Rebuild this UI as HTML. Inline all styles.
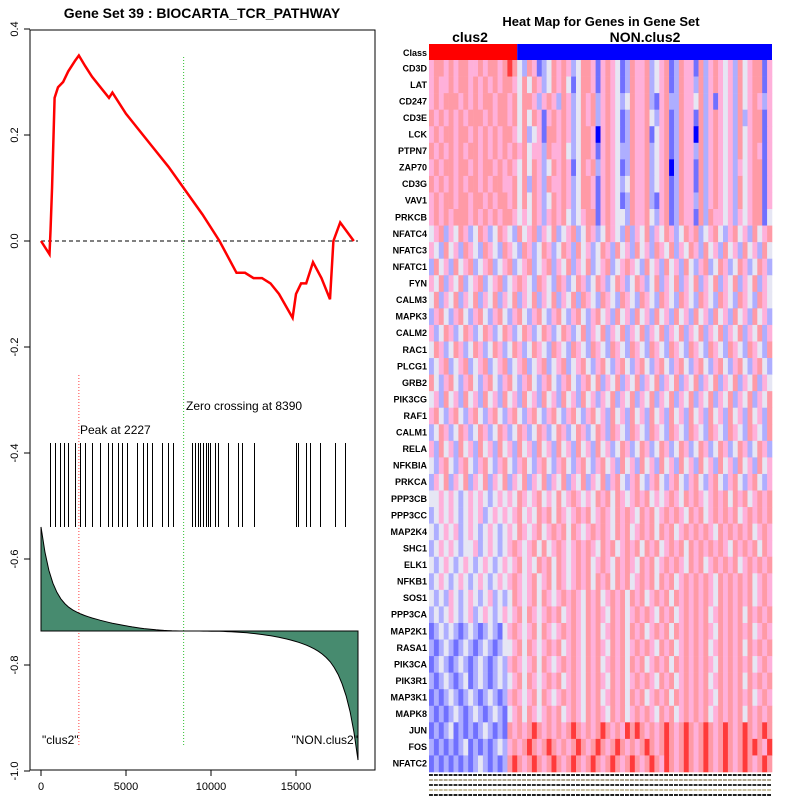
<!DOCTYPE html>
<html><head><meta charset="utf-8"><style>
body{margin:0;background:#fff;font-family:"Liberation Sans",sans-serif}
svg{display:block}
</style></head><body>
<svg id="c" width="800" height="800" xmlns="http://www.w3.org/2000/svg"></svg>
<script>
// ---- data ----
const esRanks=[0,500,560,650,800,1000,1300,1600,2000,2227,2600,3000,3500,4000,4200,5000,5500,6500,7500,8390,9500,10500,11500,12000,12500,13000,13500,14000,14800,15000,15300,15600,16000,16500,17000,17200,17600,18400];
const esValues=[0,-0.025,0.02,0.1,0.27,0.29,0.3,0.32,0.34,0.35,0.33,0.31,0.29,0.27,0.28,0.24,0.22,0.18,0.14,0.1,0.05,0,-0.06,-0.06,-0.07,-0.07,-0.08,-0.1,-0.145,-0.1,-0.08,-0.08,-0.04,-0.07,-0.11,0.0,0.035,0];
const hitRanks=[530,820,1120,1350,1590,2000,2290,2590,3000,3470,3940,4180,4530,4760,5060,5650,6000,6240,6530,7120,7470,7760,8880,9060,9240,9350,9530,9710,9820,9940,10240,10410,11000,11590,11820,12530,15000,15120,15590,15820,16410,17290,17880];
const xTicks=[0,5000,10000,15000];
const yTicks=[0.4,0.2,0.0,-0.2,-0.4,-0.6,-0.8,-1.0];
const genes=["CD3D","LAT","CD247","CD3E","LCK","PTPN7","ZAP70","CD3G","VAV1","PRKCB","NFATC4","NFATC3","NFATC1","FYN","CALM3","MAPK3","CALM2","RAC1","PLCG1","GRB2","PIK3CG","RAF1","CALM1","RELA","NFKBIA","PRKCA","PPP3CB","PPP3CC","MAP2K4","SHC1","ELK1","NFKB1","SOS1","PPP3CA","MAP2K1","RASA1","PIK3CA","PIK3R1","MAP3K1","MAPK8","JUN","FOS","NFATC2"];
const heat=[
"4554545544545545653254123545423554145431254452345125441524543425345514",
"4544545545454545543535423545313554145431254452345125442524543425345514",
"4545554545455455453554245425423545245432354452145225443524143425345424",
"5454545455545455453535414545423545245431254453245125441524543425245514",
"4545545545454545543523415545423554045431254451345125440524543425345514",
"5454545455454545454534425445323554145432254452345125442524543425345414",
"4545545545455454543535423545413545245431254452345025441524543424345514",
"5454545455454554453525425445423554145432354452345125441524543425345514",
"4545545545545455453535423545423554145431254452145125442524543425345514",
"4545455545454545543435424545323455145433254453245125441525443424345513",
"3452435423542354325345243523452354235432524352435423545234532453425345",
"4325342543254325432542354235425342354253425342543524354253425342534253",
"2534253452345234523452345243524352345234543253425342532452354235423542",
"4352435234523452345432543254235423542354235423524352435243524352435243",
"3524352435243524352435243524352543254325432543254325432543254325432543",
"2453245324532453245324532453245324534253425342534253425342534253425342",
"4235423542354235423542354235423524352435243524352435243524352435243524",
"3542354235423542354235432543254325432543254325432543254325432543254325",
"2345234523452345234523452345234532453245324532453245324532453245324532",
"5324532453245324532453245324532453524352435243524352435243524352435243",
"3425342534253425342534253425342534243524352435243524352435243524352435",
"4532453245324532453245324532453245342534253425342534253425342534253425",
"2354235423542354235423542354235423542543254325432543254325432543254325",
"4253425342534253425342534253425342534235423542354235423542354235423542",
"3245324532453245324532453245324532453425342534253425342534253425342534",
"2435243524352435243524352435243524352453245324532453245324532453245324",
"3343432343432343435434534353454343545354345453434543545434545354534545",
"2343432343423434345343545354345453454354543545345454354534545453454545",
"3234342343234323435434534545354345454354534545354534545454354545453454",
"2343432334234323454345353454345454354534545354534545354545454354545354",
"3234323432343234345343545354345453454354543545345454354534545453454545",
"2343234323432343454345345354345453545354534545354534545454354545453454",
"3232432343234232354345354345454354534545354534545354545454354545453454",
"2323432342343234345354345453454354543545345454354534545453454545354545",
"1232321232123213454345354345454354534545354534545354545454354545453454",
"2123212321232123345354345453454354543545345454354534545453454545354545",
"1232123212321232454345354345454354534545354534545354545454354545453454",
"2123212312321232345354345453454354543545345454354534545453454545354545",
"1212321232123212454345354345454354534545354534545354545454354545453454",
"2121232123212321345354345453454354543545345454354534545453454545354545",
"1212312121232121545456545454565454565454656545456545654565456545654565",
"2121212312121232454565456545456545654565454565456545654565456545656546",
"1212121212321212565456545654565456545654565456546545654565456545654565"];
const heatColors=["#0000ff","#7070ff","#aeaeff","#e6e6f4","#ffb0da","#ff9aa6","#ff3a3a"];

const svg=document.getElementById('c');
const NS="http://www.w3.org/2000/svg";
function mk(tag,attrs,parent){const e=document.createElementNS(NS,tag);for(const k in attrs)e.setAttribute(k,attrs[k]);(parent||svg).appendChild(e);return e;}
function txt(s,attrs,parent){const e=mk('text',attrs,parent);e.textContent=s;return e;}
const X=r=>41+r*(85/5000);
const Y=v=>241-v*530;

const left=mk('g',{});


mk('rect',{x:30,y:30,width:345,height:740,fill:'none',stroke:'#000','stroke-width':1},left);
const title=txt('Gene Set  39 : BIOCARTA_TCR_PATHWAY',{x:202,y:18,'text-anchor':'middle','font-size':14,'font-weight':'bold'},left);


xTicks.forEach(t=>{
 mk('line',{x1:X(t),x2:X(t),y1:770,y2:776,stroke:'#000'},left);
 const l=txt(String(t),{x:X(t),y:790,'text-anchor':'middle','font-size':11},left);
 
 
});
yTicks.forEach(t=>{
 const yy=Y(t);
 mk('line',{x1:24,x2:30,y1:yy,y2:yy,stroke:'#000'},left);
 const l=txt(t.toFixed(1),{x:0,y:0,transform:'translate(18,'+yy+') rotate(-90)','text-anchor':'middle','font-size':11},left);
 
 
});
mk('line',{x1:41,x2:358,y1:241,y2:241,stroke:'#000','stroke-dasharray':'4,3'},left);
mk('line',{x1:X(2227),x2:X(2227),y1:375,y2:745,stroke:'#ff4040','stroke-dasharray':'1,2'},left);
mk('line',{x1:X(8390),x2:X(8390),y1:57,y2:745,stroke:'#30c030','stroke-dasharray':'1,2'},left);
txt('Peak at 2227',{x:80,y:434,'font-size':12},left);
txt('Zero crossing at 8390',{x:186,y:410,'font-size':12},left);
const es=mk('polyline',{points:esRanks.map((r,i)=>X(r)+','+Y(esValues[i])).join(' '),fill:'none',stroke:'#ff0000','stroke-width':2.5},left);


hitRanks.forEach(r=>{
 const h=mk('line',{x1:Math.round(X(r))+0.5,x2:Math.round(X(r))+0.5,y1:443,y2:527,stroke:'#000','shape-rendering':'crispEdges'},left);
 
 
});
const baseY=631;
let areaD='M41,'+baseY+' L41,527 ';
for(let i=0;i<=80;i++){
 const f=i/80;const x=41+f*317;let y;
 if(f<0.451){const g=f/0.451;y=baseY-104*(0.3*Math.pow(1-g,2)+0.7*Math.pow(1-g,14));}
 else{const g=(f-0.451)/0.549;y=baseY+129*(0.3*Math.pow(g,3)+0.7*Math.pow(g,14));}
 areaD+='L'+x.toFixed(1)+','+y.toFixed(1)+' ';
}
areaD+='L358,'+baseY+' Z';
const m=mk('path',{d:areaD,fill:'#478b6f',stroke:'#000','stroke-width':1},left);


mk('line',{x1:41,x2:358,y1:baseY,y2:baseY,stroke:'#000'},left);
txt('"clus2"',{x:42,y:744,'font-size':12},left);
txt('"NON.clus2"',{x:358,y:744,'font-size':12,'text-anchor':'end'},left);

const hm=mk('g',{});


txt('Heat Map for Genes in Gene Set',{x:601,y:26,'text-anchor':'middle','font-size':13,'font-weight':'bold'},hm);
txt('clus2',{x:470,y:42,'text-anchor':'middle','font-size':14,'font-weight':'bold'},hm);
txt('NON.clus2',{x:645,y:42,'text-anchor':'middle','font-size':14,'font-weight':'bold'},hm);
const hx=429,hw=343,ncol=70,cw=hw/ncol,ry0=60,rh=712/genes.length,nClus=18;
mk('rect',{x:hx,y:44,width:cw*nClus,height:16,fill:'#ff0000'},hm);
mk('rect',{x:hx+cw*nClus,y:44,width:hw-cw*nClus,height:16,fill:'#0000ff'},hm);
txt('Class',{x:427,y:56,'text-anchor':'end','font-size':9,'font-weight':'bold'},hm);
genes.forEach((g,i)=>{
 const l=txt(g,{x:427,y:ry0+rh*i+rh/2+3,'text-anchor':'end','font-size':9,'font-weight':'bold'},hm);
 
 
 const row=heat[i]||'';
 for(let j=0;j<ncol;j++){
  const v=row.charAt(j);const ci=v===''?3:+v;
  mk('rect',{x:(hx+j*cw).toFixed(2),y:(ry0+i*rh).toFixed(2),width:(cw+0.3).toFixed(2),height:(rh+0.3).toFixed(2),fill:heatColors[ci]},hm);
 }
});
const stripCols=['#222','#b0a890','#333','#c8c0a0','#222'];
for(let j=0;j<ncol;j++){for(let k=0;k<5;k++){
 mk('rect',{x:hx+j*cw,y:774+k*5,width:cw-1,height:2,fill:stripCols[k]},hm);
}}
</script>
</body></html>
